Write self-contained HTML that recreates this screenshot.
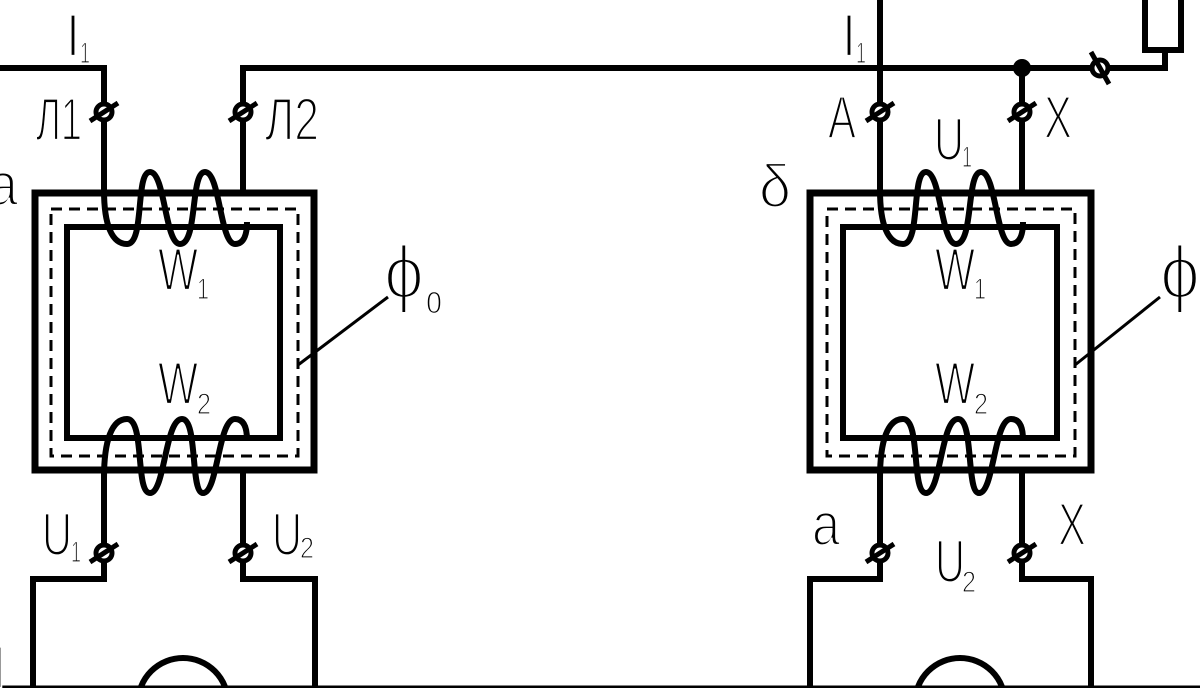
<!DOCTYPE html>
<html><head><meta charset="utf-8"><style>
html,body{margin:0;padding:0;background:#fff;overflow:hidden;width:1200px;height:688px;}
svg{display:block;overflow:hidden;}
text{font-family:"Liberation Sans",sans-serif;fill:#000;}
.t{stroke:#fff;stroke-width:2.2px;}
</style></head><body>
<svg width="1200" height="688" viewBox="0 0 1200 688" xmlns="http://www.w3.org/2000/svg">
<defs>
<g id="term"><circle r="8" fill="#fff" stroke="#000" stroke-width="5"/><line x1="-14" y1="9" x2="14" y2="-9" stroke="#000" stroke-width="5"/></g>
</defs>
<g fill="none" stroke="#000" stroke-linejoin="miter">
<rect x="35" y="193" width="279" height="277" stroke-width="7"/>
<rect x="67" y="227" width="213" height="211" stroke-width="6"/>
<rect x="51" y="209" width="247" height="247" stroke-width="3" stroke-dasharray="11 7"/>
<polyline points="0,68 104,68 104,192" stroke-width="6"/>
<polyline points="243,192 243,68 1165,68 1165,50" stroke-width="6"/>
<path d="M104,190 C104,225 112,244 127,244 C145,244 135,172 150,172 C165,172 165,244 180,244 C198,244 190,172 205,172 C220,172 220,244 235,244 C245,244 247,232 247,222" stroke-width="6"/>
<path d="M104,478 C104,440 112,419 127,419 C145,419 135,493 150,493 C165,493 165,419 182,419 C198,419 190,493 203,493 C218,493 218,419 235,419 C245,419 247,430 247,440" stroke-width="6"/>
<polyline points="104,470 104,579 33,579 33,688" stroke-width="6"/>
<polyline points="243,470 243,579 315,579 315,688" stroke-width="6"/>
<circle cx="183" cy="703" r="45" stroke-width="6"/>
<line x1="388" y1="297" x2="298" y2="365" stroke-width="3"/>
<rect x="810" y="193" width="281" height="277" stroke-width="7"/>
<rect x="843" y="227" width="214" height="211" stroke-width="6"/>
<rect x="827" y="209" width="248" height="247" stroke-width="3" stroke-dasharray="11 7"/>
<line x1="880" y1="0" x2="880" y2="192" stroke-width="6"/>
<line x1="1022" y1="68" x2="1022" y2="192" stroke-width="6"/>
<rect x="1145" y="-5" width="36" height="55" stroke-width="6"/>
<path d="M880,190 C880,225 888,244 903,244 C921,244 911,172 926,172 C941,172 941,244 956,244 C974,244 966,172 981,172 C996,172 996,244 1011,244 C1021,244 1023,232 1023,222" stroke-width="6"/>
<path d="M880,478 C880,440 888,419 903,419 C921,419 911,493 926,493 C941,493 941,419 958,419 C974,419 966,493 979,493 C994,493 994,419 1011,419 C1021,419 1023,430 1023,440" stroke-width="6"/>
<polyline points="880,470 880,579 810,579 810,688" stroke-width="6"/>
<polyline points="1022,470 1022,579 1091,579 1091,688" stroke-width="6"/>
<circle cx="960" cy="703" r="45" stroke-width="6"/>
<line x1="1160" y1="297" x2="1075" y2="365" stroke-width="3"/>
<line x1="0" y1="687" x2="1200" y2="687" stroke-width="3"/>
</g>
<circle cx="1022" cy="68" r="9" fill="#000"/>
<use href="#term" x="104" y="112"/>
<use href="#term" x="243" y="112"/>
<use href="#term" x="104" y="553"/>
<use href="#term" x="243" y="553"/>
<use href="#term" x="880" y="112"/>
<use href="#term" x="1022" y="112"/>
<use href="#term" x="880" y="553"/>
<use href="#term" x="1022" y="553"/>
<g transform="translate(1100,68)"><circle r="8" fill="#fff" stroke="#000" stroke-width="5"/><line x1="-9" y1="-16" x2="9" y2="16" stroke="#000" stroke-width="5"/></g>
<g font-size="60" class="t">
<text x="66" y="56" textLength="14" lengthAdjust="spacingAndGlyphs">I</text>
<text x="36" y="140" textLength="46" lengthAdjust="spacingAndGlyphs">Л1</text>
<text x="265" y="140" textLength="54" lengthAdjust="spacingAndGlyphs">Л2</text>
<text x="158" y="290" textLength="40" lengthAdjust="spacingAndGlyphs">W</text>
<text x="158" y="404" textLength="40" lengthAdjust="spacingAndGlyphs">W</text>
<text x="42" y="555" textLength="30" lengthAdjust="spacingAndGlyphs">U</text>
<text x="272" y="555" textLength="30" lengthAdjust="spacingAndGlyphs">U</text>
<text x="-12" y="205" textLength="30" lengthAdjust="spacingAndGlyphs">a</text>
<text x="842" y="56" textLength="14" lengthAdjust="spacingAndGlyphs">I</text>
<text x="828" y="138" textLength="28" lengthAdjust="spacingAndGlyphs">A</text>
<text x="1044" y="138" textLength="28" lengthAdjust="spacingAndGlyphs">X</text>
<text x="934" y="160" textLength="30" lengthAdjust="spacingAndGlyphs">U</text>
<text x="759" y="207" textLength="32" lengthAdjust="spacingAndGlyphs">δ</text>
<text x="935" y="290" textLength="40" lengthAdjust="spacingAndGlyphs">W</text>
<text x="935" y="404" textLength="40" lengthAdjust="spacingAndGlyphs">W</text>
<text x="812" y="545" textLength="28" lengthAdjust="spacingAndGlyphs">a</text>
<text x="1058" y="545" textLength="28" lengthAdjust="spacingAndGlyphs">X</text>
<text x="935" y="582" textLength="30" lengthAdjust="spacingAndGlyphs">U</text>
<text x="-8" y="688" textLength="14" lengthAdjust="spacingAndGlyphs">I</text>
</g>
<g font-size="30" class="t" style="stroke-width:1.2px">
<text x="80" y="63" textLength="10" lengthAdjust="spacingAndGlyphs">1</text>
<text x="197" y="299" textLength="12" lengthAdjust="spacingAndGlyphs">1</text>
<text x="197" y="414" textLength="14" lengthAdjust="spacingAndGlyphs">2</text>
<text x="71" y="562" textLength="10" lengthAdjust="spacingAndGlyphs">1</text>
<text x="300" y="558" textLength="14" lengthAdjust="spacingAndGlyphs">2</text>
<text x="856" y="63" textLength="10" lengthAdjust="spacingAndGlyphs">1</text>
<text x="962" y="167" textLength="10" lengthAdjust="spacingAndGlyphs">1</text>
<text x="974" y="299" textLength="12" lengthAdjust="spacingAndGlyphs">1</text>
<text x="974" y="414" textLength="14" lengthAdjust="spacingAndGlyphs">2</text>
<text x="962" y="592" textLength="14" lengthAdjust="spacingAndGlyphs">2</text>
</g>
<text x="384" y="298" font-size="74" font-family="Liberation Serif,serif" textLength="40" lengthAdjust="spacingAndGlyphs" class="t" style="stroke-width:3px">ϕ</text>
<text x="426" y="313" font-size="40" textLength="16" lengthAdjust="spacingAndGlyphs" class="t" style="stroke-width:1.5px">o</text>
<text x="1160" y="298" font-size="74" font-family="Liberation Serif,serif" textLength="40" lengthAdjust="spacingAndGlyphs" class="t" style="stroke-width:3px">ϕ</text>
</svg>
</body></html>
